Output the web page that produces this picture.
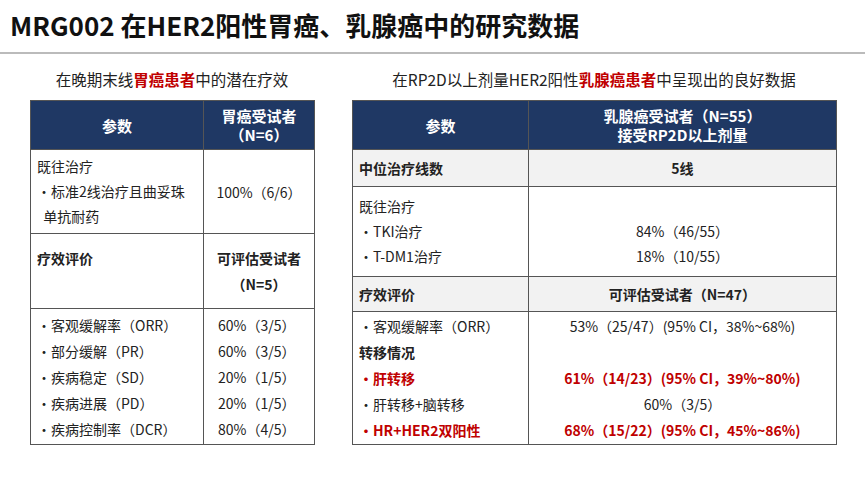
<!DOCTYPE html><html><head><meta charset="utf-8">
<script src="https://cdn.jsdelivr.net/npm/chart.js@4/dist/chart.umd.min.js"></script>
<style>
body{margin:0;width:865px;height:487px;background:#fff;font-family:"Noto Sans CJK SC","Noto Sans",sans-serif;position:relative;overflow:hidden;color:#222}
.t{position:absolute;left:10px;top:6px;font-size:26px;font-weight:bold;color:#111}
.line{position:absolute;left:0;top:52px;width:865px;height:2px;background:#bbb}
.sub{position:absolute;top:68px;font-size:15.5px;text-align:center}
.r{color:#c00000;font-weight:bold}
table{position:absolute;border-collapse:collapse;font-size:14px;top:100px}
td,th{border:1px solid #555;padding:0 6px;vertical-align:middle}
th{background:#1f3864;color:#fff;font-weight:bold;font-size:15px;height:48px}
.g td{background:#f2f2f2;font-weight:bold}
.c{text-align:center}
</style></head><body>
<div class="t">MRG002 在HER2阳性胃癌、乳腺癌中的研究数据</div><div class="line"></div>
<div class="sub" style="left:30px;width:284px">在晚期末线<span class="r">胃癌患者</span>中的潜在疗效</div>
<div class="sub" style="left:352px;width:484px">在RP2D以上剂量HER2阳性<span class="r">乳腺癌患者</span>中呈现出的良好数据</div>
<table id="L" style="left:30px;width:285px"></table>
<table id="R" style="left:352px;width:485px"></table>
<script>
const leftHeader=["参数","胃癌受试者<br>（N=6）"];
const leftPrior=["既往治疗","·标准2线治疗且曲妥珠","&nbsp;&nbsp;单抗耐药"];
const leftPriorVal="100%（6/6）";
const leftEvalHead=["疗效评价","可评估受试者<br>（N=5）"];
const leftParams=["·客观缓解率（ORR）","·部分缓解（PR）","·疾病稳定（SD）","·疾病进展（PD）","·疾病控制率（DCR）"];
const leftVals=["60%（3/5）","60%（3/5）","20%（1/5）","20%（1/5）","80%（4/5）"];
const rightHeader=["参数","乳腺癌受试者（N=55）<br>接受RP2D以上剂量"];
const rightLines=["中位治疗线数","5线"];
const rightPrior=["既往治疗","·TKI治疗","·T-DM1治疗"];
const rightPriorVals=["84%（46/55）","18%（10/55）"];
const rightEvalHead=["疗效评价","可评估受试者（N=47）"];
const rightParams=["·客观缓解率（ORR）","<b>转移情况</b>","<span class='r'>·肝转移</span>","·肝转移+脑转移","<span class='r'>·HR+HER2双阳性</span>"];
const rightVals=["53%（25/47）(95% CI，38%~68%)","","<span class='r'>61%（14/23）(95% CI，39%~80%)</span>","60%（3/5）","<span class='r'>68%（15/22）(95% CI，45%~86%)</span>"];
let L=`<tr><th style="width:160px">${leftHeader[0]}</th><th style="line-height:19px">${leftHeader[1]}</th></tr>
<tr style="height:84px"><td style="line-height:25px">${leftPrior.join("<br>")}</td><td class="c">${leftPriorVal}</td></tr>
<tr style="height:75px"><td style="vertical-align:top;padding-top:14px"><b>${leftEvalHead[0]}</b></td><td class="c" style="font-weight:bold;line-height:26px">${leftEvalHead[1]}</td></tr>
<tr style="height:136px"><td style="line-height:26px">${leftParams.join("<br>")}</td><td style="line-height:26px;padding-left:14px">${leftVals.join("<br>")}</td></tr>`;
document.getElementById("L").innerHTML=L;
let R=`<tr><th style="width:163px">${rightHeader[0]}</th><th style="line-height:19px">${rightHeader[1]}</th></tr>
<tr class="g" style="height:37px"><td>${rightLines[0]}</td><td class="c">${rightLines[1]}</td></tr>
<tr style="height:90px"><td style="line-height:25px">${rightPrior.join("<br>")}</td><td class="c" style="line-height:25px"><br>${rightPriorVals.join("<br>")}</td></tr>
<tr class="g" style="height:35px"><td>${rightEvalHead[0]}</td><td class="c">${rightEvalHead[1]}</td></tr>
<tr style="height:133px"><td style="line-height:26px">${rightParams.join("<br>")}</td><td class="c" style="line-height:26px">${rightVals.map(v=>v||"&nbsp;").join("<br>")}</td></tr>`;
document.getElementById("R").innerHTML=R;
</script></body></html>
